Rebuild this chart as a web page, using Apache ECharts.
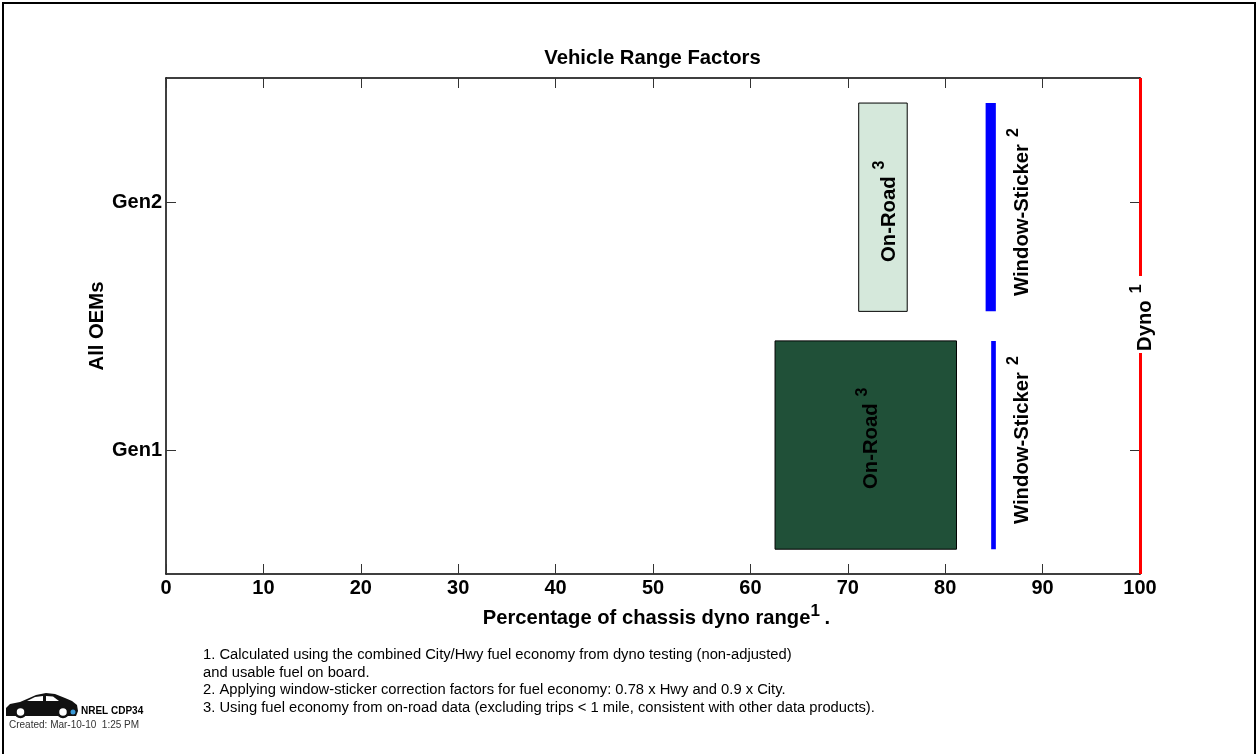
<!DOCTYPE html>
<html><head><meta charset="utf-8">
<style>html,body{margin:0;padding:0;background:#fff}#c{width:1257px;height:754px}</style>
<script src="https://cdn.jsdelivr.net/npm/echarts@6/dist/echarts.min.js"></script>
</head><body><div id="c"></div>
<script>
const categories = ['Gen1', 'Gen2'];
const onRoadLow = [62.53, 71.12];
const onRoadHigh = [81.16, 76.1];
const stickerLow = [84.72, 84.15];
const stickerHigh = [85.2, 85.2];
const dynoValue = 100;
const onRoadColors = ['#205038', '#d5e8db'];
const footnotes = [
  '1. Calculated using the combined City/Hwy fuel economy from dyno testing (non-adjusted)',
  'and usable fuel on board.',
  '2. Applying window-sticker correction factors for fuel economy: 0.78 x Hwy and 0.9 x City.',
  '3. Using fuel economy from on-road data (excluding trips < 1 mile, consistent with other data products).'
];
const F = '"Liberation Sans", Arial, sans-serif';
const bandTop = [0.44, 0.399];
const BAND_H = 0.84;
const LABEL_SIZE = 20.3;
const onRoadLabelShift = [39, 60];
const stickerLabelShift = [74, 94];

const mctx = document.createElement('canvas').getContext('2d');
function measure(t){ mctx.font='bold '+LABEL_SIZE+'px "Liberation Sans"'; return mctx.measureText(t).width; }
function sideLabel(x, yStart, main, sup) {
  const w = measure(main);
  return [
    {type:'text', x, y:yStart, rotation:Math.PI/2, z2:6,
     style:{text:main, fill:'#000', font:'bold '+LABEL_SIZE+'px '+F, align:'left', verticalAlign:'middle'}},
    {type:'text', x:x-9, y:yStart-w-7, rotation:Math.PI/2, z2:6,
     style:{text:sup, fill:'#000', font:'bold 16px '+F, align:'left', verticalAlign:'middle'}}
  ];
}
function renderOnRoad(params, api) {
  const i = api.value(0);
  const c = api.coord([api.value(1), i]);
  const e = api.coord([api.value(2), i]);
  const band = api.size([0, 1])[1];
  const top = c[1] - bandTop[i] * band, h = BAND_H * band;
  return {type:'group', children:[
    {type:'rect', shape:{x:c[0], y:top, width:e[0]-c[0], height:h},
     style:{fill:onRoadColors[i], stroke:'#000', lineWidth:1}},
    ...sideLabel((c[0]+e[0])/2 + 6, c[1] + onRoadLabelShift[i], 'On-Road', '3')
  ]};
}
function renderSticker(params, api) {
  const i = api.value(0);
  const c = api.coord([api.value(1), i]);
  const e = api.coord([api.value(2), i]);
  const band = api.size([0, 1])[1];
  const top = c[1] - bandTop[i] * band, h = BAND_H * band;
  return {type:'group', children:[
    {type:'rect', shape:{x:c[0], y:top, width:e[0]-c[0], height:h}, style:{fill:'#0000ff'}},
    ...sideLabel(e[0] + 27, c[1] + stickerLabelShift[i], 'Window-Sticker', '2')
  ]};
}
function renderDyno(params, api) {
  const c = api.coord([api.value(0), 0]);
  const cs = params.coordSys;
  return {type:'group', children:[
    {type:'line', shape:{x1:c[0]+0.5, y1:cs.y, x2:c[0]+0.5, y2:cs.y+cs.height}, style:{stroke:'#ff0000', lineWidth:3}},
    {type:'rect', shape:{x:c[0]-3, y:276, width:7, height:77}, style:{fill:'#fff'}, z2:4},
    ...sideLabel(c[0]+5.5, 351, 'Dyno', '1')
  ]};
}

const chart = echarts.init(document.getElementById('c'), null, {renderer:'canvas'});
const axisLine = {show:true, onZero:false, lineStyle:{color:'#000', width:1.5}};
const tick = {show:true, inside:true, length:10, lineStyle:{color:'#333', width:1}};
chart.setOption({
  animation:false,
  backgroundColor:'#fff',
  title:{text:'Vehicle Range Factors', left:647.5, top:43, textAlign:'center',
    textStyle:{fontFamily:F, fontWeight:'bold', fontSize:20.3, color:'#000'}},
  grid:{left:166, top:78, width:974, height:496, containLabel:false},
  xAxis:[{type:'value', min:0, max:100, interval:10, position:'bottom',
      axisLine, axisTick:tick, splitLine:{show:false},
      axisLabel:{color:'#000', fontFamily:F, fontWeight:'bold', fontSize:20, margin:4},
      name:'{a|Percentage of chassis dyno range}{s|1}{s| }{a|.}', nameLocation:'middle', nameGap:27,
      nameTextStyle:{padding:[0,0,0,7], rich:{a:{fontFamily:F,fontWeight:'bold',fontSize:20.2,color:'#000',verticalAlign:'bottom',lineHeight:26},
                           s:{fontFamily:F,fontWeight:'bold',fontSize:17,color:'#000',verticalAlign:'top',lineHeight:26}}}},
    {type:'value', min:0, max:100, interval:10, position:'top',
      axisLine, axisTick:tick, axisLabel:{show:false}, splitLine:{show:false}}],
  yAxis:[{type:'category', data:categories, position:'left', axisLine,
      axisTick:{...tick, alignWithLabel:true},
      axisLabel:{color:'#000', fontFamily:F, fontWeight:'bold', fontSize:20, margin:4},
      name:'All OEMs', nameLocation:'middle', nameGap:59, nameMoveOverlap:false,
      nameTextStyle:{fontFamily:F, fontWeight:'bold', fontSize:20.3, color:'#000'}},
    {type:'category', data:categories, position:'right', axisLine,
      axisTick:{...tick, alignWithLabel:true}, axisLabel:{show:false}}],
  series:[
    {type:'custom', name:'On-Road', renderItem:renderOnRoad, clip:false,
     encode:{x:[1,2], y:0}, data:categories.map((c,i)=>[i,onRoadLow[i],onRoadHigh[i]])},
    {type:'custom', name:'Window-Sticker', renderItem:renderSticker, clip:false,
     encode:{x:[1,2], y:0}, data:categories.map((c,i)=>[i,stickerLow[i],stickerHigh[i]])},
    {type:'custom', name:'Dyno', renderItem:renderDyno, clip:false, z:5,
     encode:{x:0}, data:[[dynoValue]]}
  ],
  graphic:[
    {type:'rect', shape:{x:3,y:3,width:1252,height:760}, style:{fill:'none',stroke:'#000',lineWidth:2}, silent:true},
    ...footnotes.map((t,i)=>({type:'text', x:203, y:[655,673,690,708][i],
      style:{text:t, font:'14.75px '+F, fill:'#000', verticalAlign:'middle'}})),
    {type:'polygon', shape:{points:[[6,716],[6,708],[10,704],[20,702],[27,699],[36,695],[46,693],[55,694],[65,698],[72,701],[77,705],[78,711],[76,716]]},
     style:{fill:'#111'}},
    {type:'polygon', shape:{points:[[27,701],[35,697],[43,696],[43,701]]}, style:{fill:'#fff'}},
    {type:'polygon', shape:{points:[[46,696],[53,696.5],[59,701],[46,701]]}, style:{fill:'#fff'}},
    {type:'circle', shape:{cx:20.5,cy:712,r:5}, style:{fill:'#fff', stroke:'#111', lineWidth:2.5}},
    {type:'circle', shape:{cx:63,cy:712,r:5}, style:{fill:'#fff', stroke:'#111', lineWidth:2.5}},
    {type:'circle', shape:{cx:73,cy:712,r:2.5}, style:{fill:'#3a9ad9'}},
    {type:'text', x:81, y:711.5, style:{text:'NREL CDP34', font:'bold 10px '+F, fill:'#000', verticalAlign:'middle'}},
    {type:'text', x:9, y:725.5, style:{text:'Created: Mar-10-10  1:25 PM', font:'10px '+F, fill:'#333', verticalAlign:'middle'}}
  ]
});
</script></body></html>
